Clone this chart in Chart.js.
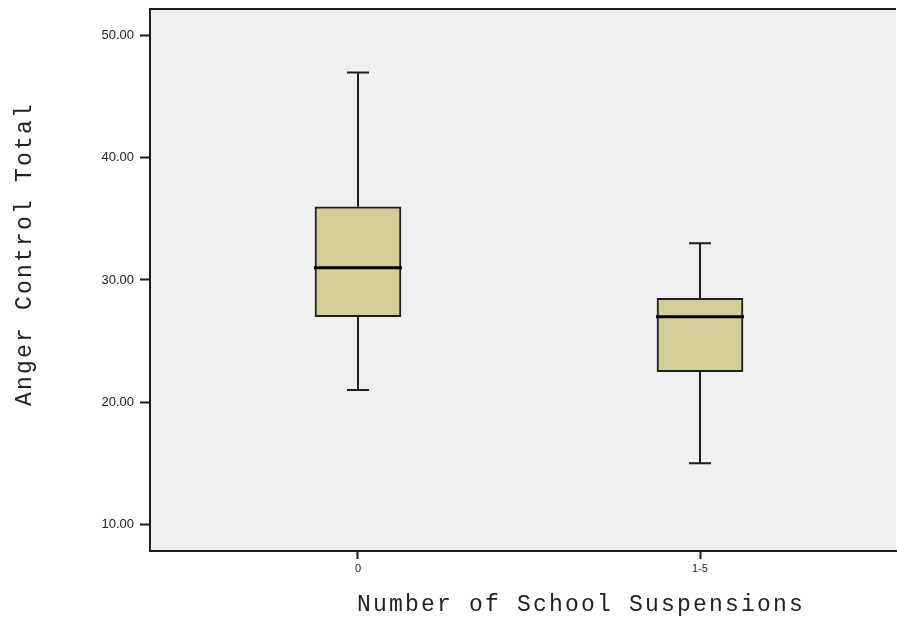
<!DOCTYPE html>
<html>
<head>
<meta charset="utf-8">
<script src="https://cdn.jsdelivr.net/npm/chart.js@4/dist/chart.umd.min.js"></script>
<style>
  html, body { margin: 0; padding: 0; background: #fff; }
  #wrap { width: 897px; height: 623px; position: relative; }
</style>
</head>
<body>
<div id="wrap"><canvas id="boxChart"></canvas></div>
<script>
/* Anger Control Total by Number of School Suspensions – boxplot */

const groups      = ['0', '1-5'];
const groupPos    = [0, 1];
const whiskerLow  = [21, 15];
const quart1      = [27, 22.5];
const medians     = [31, 27];
const quart3      = [36, 28.5];
const whiskerHigh = [47, 33];
const yTicks      = [10, 20, 30, 40, 50];

const X_TITLE = 'Number of School Suspensions';
const Y_TITLE = 'Anger Control Total';

const INK = '#1e1e1e';

// whiskers with caps behind the boxes, medians on top
const boxplotMarks = {
    id: 'boxplotMarks',
    beforeDatasetsDraw(chart) {
        const { ctx, scales: { x, y } } = chart;
        ctx.save();
        ctx.strokeStyle = INK;
        ctx.lineWidth = 2;
        groupPos.forEach((p, i) => {
            const cx = Math.round(x.getPixelForValue(p));
            const capHalf = 11;
            const yLo = y.getPixelForValue(whiskerLow[i]);
            const yHi = y.getPixelForValue(whiskerHigh[i]);
            ctx.beginPath();
            ctx.moveTo(cx, yLo); ctx.lineTo(cx, y.getPixelForValue(quart1[i]));
            ctx.moveTo(cx, yHi); ctx.lineTo(cx, y.getPixelForValue(quart3[i]));
            ctx.moveTo(cx - capHalf, yLo); ctx.lineTo(cx + capHalf, yLo);
            ctx.moveTo(cx - capHalf, yHi); ctx.lineTo(cx + capHalf, yHi);
            ctx.stroke();
        });
        ctx.restore();
    },
    afterDatasetsDraw(chart) {
        const { ctx, scales: { y } } = chart;
        const meta = chart.getDatasetMeta(0);
        ctx.save();
        ctx.strokeStyle = '#000';
        ctx.lineWidth = 3;
        groupPos.forEach((p, i) => {
            const bar = meta.data[i];
            const half = bar.width / 2 + 1;
            const ym = y.getPixelForValue(medians[i]);
            ctx.beginPath();
            ctx.moveTo(bar.x - half, ym);
            ctx.lineTo(bar.x + half, ym);
            ctx.stroke();
        });
        ctx.restore();
    }
};

// grey plot background, top frame line and the axis titles
const plotFrame = {
    id: 'plotFrame',
    beforeDraw(chart) {
        const { ctx, chartArea: a } = chart;
        ctx.save();
        ctx.fillStyle = '#f0f0f0';
        ctx.fillRect(a.left, a.top, a.right - a.left, a.bottom - a.top);
        ctx.restore();
    },
    afterDraw(chart) {
        const { ctx, chartArea: a } = chart;
        ctx.save();
        ctx.strokeStyle = INK;
        ctx.lineWidth = 2;
        ctx.beginPath();
        ctx.moveTo(a.left - 1, a.top);
        ctx.lineTo(a.right, a.top);
        ctx.stroke();

        ctx.fillStyle = '#222';
        ctx.font = '23px "Courier New", "Nimbus Mono PS", "Liberation Mono", monospace';
        ctx.letterSpacing = '2.2px';
        ctx.textBaseline = 'alphabetic';
        ctx.textAlign = 'left';
        ctx.fillText(X_TITLE, 357, 611);

        ctx.translate(31, 406);
        ctx.rotate(-Math.PI / 2);
        ctx.fillText(Y_TITLE, 0, 0);
        ctx.restore();
    }
};

new Chart(document.getElementById('boxChart'), {
    type: 'bar',
    data: {
        datasets: [{
            data: groupPos.map((p, i) => ({ x: p, y: [quart1[i], quart3[i]] })),
            backgroundColor: '#d3ce97',
            borderColor: INK,
            borderWidth: 2,
            borderSkipped: false,
            barThickness: 86
        }]
    },
    options: {
        responsive: true,
        maintainAspectRatio: false,
        animation: false,
        layout: { padding: { top: 9, right: 1, left: 0, bottom: 0 } },
        plugins: { legend: { display: false }, tooltip: { enabled: false } },
        scales: {
            x: {
                type: 'linear',
                offset: false,
                min: -0.608,
                max: 1.573,
                afterBuildTicks: s => { s.ticks = groupPos.map(v => ({ value: v })); },
                afterFit: s => { s.height = 72; s.paddingLeft = 0; s.paddingRight = 0; },
                ticks: {
                    callback: (v) => groups[groupPos.indexOf(v)],
                    color: '#222',
                    font: { family: '"Liberation Sans", Arial, sans-serif', size: 11 },
                    padding: 3,
                    maxRotation: 0
                },
                grid: { offset: false, drawOnChartArea: false, tickLength: 8, tickColor: INK, tickWidth: 2 },
                border: { color: INK, width: 2 }
            },
            y: {
                min: 7.81,
                max: 52.19,
                afterBuildTicks: s => { s.ticks = yTicks.map(v => ({ value: v })); },
                afterFit: s => { s.width = 150; s.paddingTop = 0; s.paddingBottom = 0; },
                ticks: {
                    callback: v => Number(v).toFixed(2),
                    color: '#222',
                    font: { family: '"Liberation Sans", Arial, sans-serif', size: 13 },
                    padding: 6
                },
                grid: { drawOnChartArea: false, tickLength: 10, tickColor: INK, tickWidth: 2 },
                border: { color: INK, width: 2 }
            }
        }
    },
    plugins: [plotFrame, boxplotMarks]
});
</script>
</body>
</html>
